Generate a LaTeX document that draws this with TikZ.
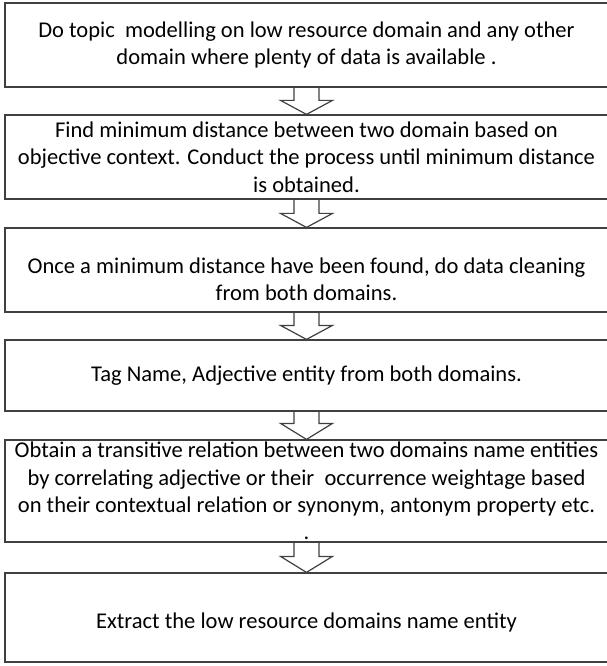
\documentclass[tikz,border=0pt]{standalone}
\usepackage{fontspec}
\setmainfont{Carlito}
\usepackage{tikz}
\usetikzlibrary{calc}
\definecolor{boxline}{RGB}{64,64,64}

\begin{document}
\begin{tikzpicture}[x=0.75pt,y=-0.75pt,
	stepbox/.style={draw=boxline,line width=0.9pt,inner sep=0pt,minimum width=452.25pt,align=center,font=\fontsize{16.9}{20.6}\selectfont},
	blockarrow/.style={draw=boxline,line width=0.9pt,line join=miter}]
	\useasboundingbox (0,0) rectangle (606,666);
	\node[stepbox,minimum height=63pt] (b1) at (306.5,45) {Do topic~ modelling on low resource domain and any other\\domain where plenty of data is available .};
	\node[stepbox,minimum height=63pt] (b2) at (306.5,157) {Find minimum distance between two domain based on\\objective context. Conduct the process until minimum distance\\is obtained.};
	\node[stepbox,minimum height=63pt] (b3) at (306.5,270) {\rule{0pt}{26pt}Once a minimum distance have been found, do data cleaning\\from both domains.};
	\node[stepbox,minimum height=53.25pt] (b4) at (306.5,375.5) {Tag Name, Adjective entity from both domains.};
	\node[stepbox,minimum height=76.5pt] (b5) at (306.5,491) {Obtain a transitive relation between two domains name entities\\by correlating adjective or their~ occurrence weightage based\\on their contextual relation or synonym, antonym property etc.\\.};
	\node[stepbox,minimum height=66.75pt] (b6) at (306.5,617.5) {\rule{0pt}{18.5pt}Extract the low resource domains name entity};
	\draw[blockarrow] ($(b1.south)+(-12.5,0)$) -- ($(b2.north)+(-12.5,-14)$) -- ($(b2.north)+(-26,-14)$) -- (b2.north) -- ($(b2.north)+(26,-14)$) -- ($(b2.north)+(12.5,-14)$) -- ($(b1.south)+(12.5,0)$);
	\draw[blockarrow] ($(b2.south)+(-12.5,0)$) -- ($(b3.north)+(-12.5,-14)$) -- ($(b3.north)+(-26,-14)$) -- (b3.north) -- ($(b3.north)+(26,-14)$) -- ($(b3.north)+(12.5,-14)$) -- ($(b2.south)+(12.5,0)$);
	\draw[blockarrow] ($(b3.south)+(-12.5,0)$) -- ($(b4.north)+(-12.5,-14)$) -- ($(b4.north)+(-26,-14)$) -- (b4.north) -- ($(b4.north)+(26,-14)$) -- ($(b4.north)+(12.5,-14)$) -- ($(b3.south)+(12.5,0)$);
	\draw[blockarrow] ($(b4.south)+(-12.5,0)$) -- ($(b5.north)+(-12.5,-16)$) -- ($(b5.north)+(-26,-16)$) -- (b5.north) -- ($(b5.north)+(26,-16)$) -- ($(b5.north)+(12.5,-16)$) -- ($(b4.south)+(12.5,0)$);
	\draw[blockarrow] ($(b5.south)+(-12.5,0)$) -- ($(b6.north)+(-12.5,-16)$) -- ($(b6.north)+(-26,-16)$) -- (b6.north) -- ($(b6.north)+(26,-16)$) -- ($(b6.north)+(12.5,-16)$) -- ($(b5.south)+(12.5,0)$);
\end{tikzpicture}
\end{document}
